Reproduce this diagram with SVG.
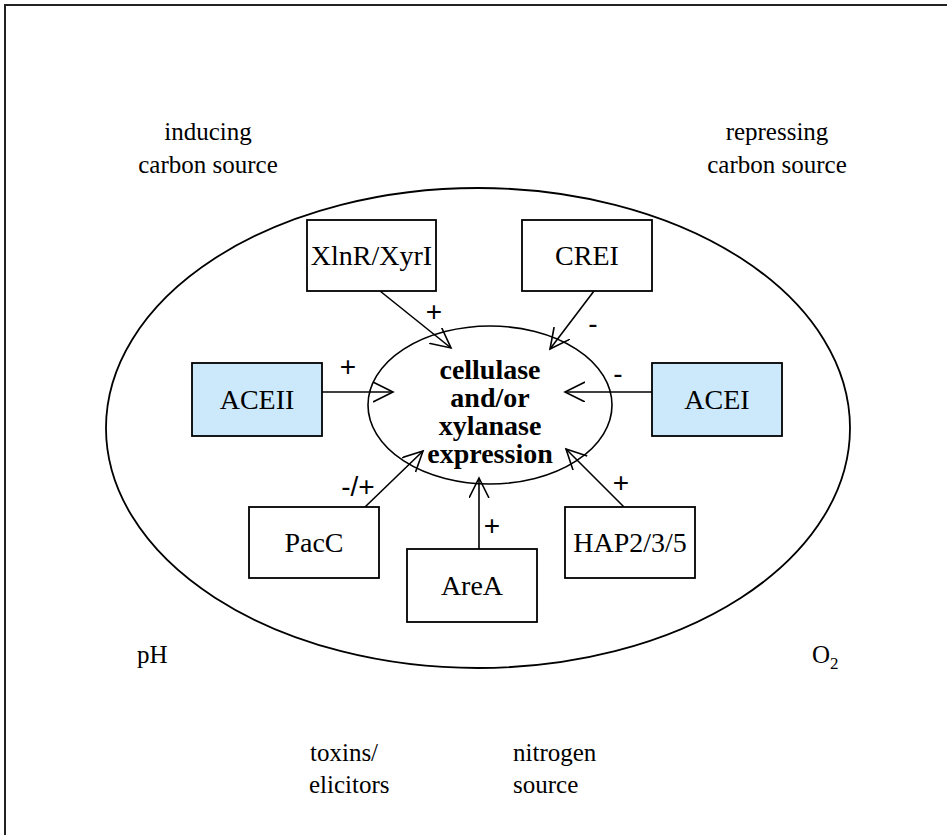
<svg xmlns="http://www.w3.org/2000/svg" width="947" height="835" viewBox="0 0 947 835">
<defs>
<marker id="open" markerUnits="userSpaceOnUse" markerWidth="24" markerHeight="24" refX="20" refY="10" orient="auto" viewBox="0 0 24 24">
<path d="M0,0 L20,10 L0,20" fill="none" stroke="#000" stroke-width="1.6"/>
</marker>
<style>
.box{fill:#fff;stroke:#000;stroke-width:1.8}
.blue{fill:#cce9fb}
.lbl{font-family:"Liberation Serif","Times New Roman",serif;font-size:28px;text-anchor:middle;fill:#000}
.out{font-family:"Liberation Serif","Times New Roman",serif;font-size:25px;fill:#000}
.ctr{font-family:"Liberation Serif","Times New Roman",serif;font-size:28px;font-weight:bold;text-anchor:middle;fill:#000}
.sgn{font-family:"Liberation Sans",Arial,sans-serif;font-size:28px;text-anchor:middle;fill:#000}
.edge{stroke:#000;stroke-width:1.6;fill:none;marker-end:url(#open)}
</style>
</defs>
<rect x="0" y="0" width="947" height="835" fill="#fff"/>
<rect x="5" y="5" width="1000" height="1000" fill="none" stroke="#222" stroke-width="2"/>

<g id="cell">
<ellipse cx="478" cy="428" rx="372" ry="240" fill="none" stroke="#000" stroke-width="1.8"/>
</g>

<g id="labels">
<text class="out" x="208" y="140" text-anchor="middle">inducing</text>
<text class="out" x="208" y="173" text-anchor="middle">carbon source</text>
<text class="out" x="777" y="140" text-anchor="middle">repressing</text>
<text class="out" x="777" y="173" text-anchor="middle">carbon source</text>
<text class="out" x="137" y="663">pH</text>
<text class="out" x="812" y="663">O<tspan font-size="17" dy="6">2</tspan></text>
<text class="out" x="310" y="761">toxins/</text>
<text class="out" x="309" y="793">elicitors</text>
<text class="out" x="513" y="761">nitrogen</text>
<text class="out" x="513" y="793">source</text>
</g>

<g id="connectors">
<line class="edge" x1="380" y1="291" x2="451" y2="348"/>
<line class="edge" x1="594" y1="291" x2="550" y2="349"/>
<line class="edge" x1="322" y1="392" x2="393" y2="392"/>
<line class="edge" x1="652" y1="392" x2="565" y2="392"/>
<line class="edge" x1="365" y1="507" x2="423" y2="451"/>
<line class="edge" x1="479" y1="549" x2="479" y2="478"/>
<line class="edge" x1="624" y1="507" x2="566" y2="449"/>
<text class="sgn" x="434" y="321">+</text>
<text class="sgn" x="593" y="333">-</text>
<text class="sgn" x="348" y="376">+</text>
<text class="sgn" x="618" y="383">-</text>
<text class="sgn" x="358" y="496">-/+</text>
<text class="sgn" x="492" y="535">+</text>
<text class="sgn" x="621" y="492">+</text>
</g>

<g id="expression">
<ellipse cx="490" cy="405" rx="122" ry="79" fill="none" stroke="#000" stroke-width="1.6"/>
<text class="ctr" x="490" y="379">cellulase</text>
<text class="ctr" x="490" y="407">and/or</text>
<text class="ctr" x="490" y="435">xylanase</text>
<text class="ctr" x="490" y="463">expression</text>
</g>

<g id="XlnR">
<rect class="box" x="307" y="220" width="129" height="71"/>
<text class="lbl" x="371.5" y="265">XlnR/XyrI</text>
</g>
<g id="CREI">
<rect class="box" x="522" y="220" width="130" height="71"/>
<text class="lbl" x="587" y="265">CREI</text>
</g>
<g id="ACEII">
<rect class="box blue" x="192" y="363" width="130" height="73"/>
<text class="lbl" x="257" y="409">ACEII</text>
</g>
<g id="ACEI">
<rect class="box blue" x="652" y="363" width="130" height="73"/>
<text class="lbl" x="717" y="409">ACEI</text>
</g>
<g id="PacC">
<rect class="box" x="249" y="507" width="130" height="71"/>
<text class="lbl" x="314" y="552">PacC</text>
</g>
<g id="AreA">
<rect class="box" x="407" y="549" width="130" height="73"/>
<text class="lbl" x="472" y="595">AreA</text>
</g>
<g id="HAP">
<rect class="box" x="565" y="507" width="130" height="71"/>
<text class="lbl" x="630" y="552">HAP2/3/5</text>
</g>
</svg>
